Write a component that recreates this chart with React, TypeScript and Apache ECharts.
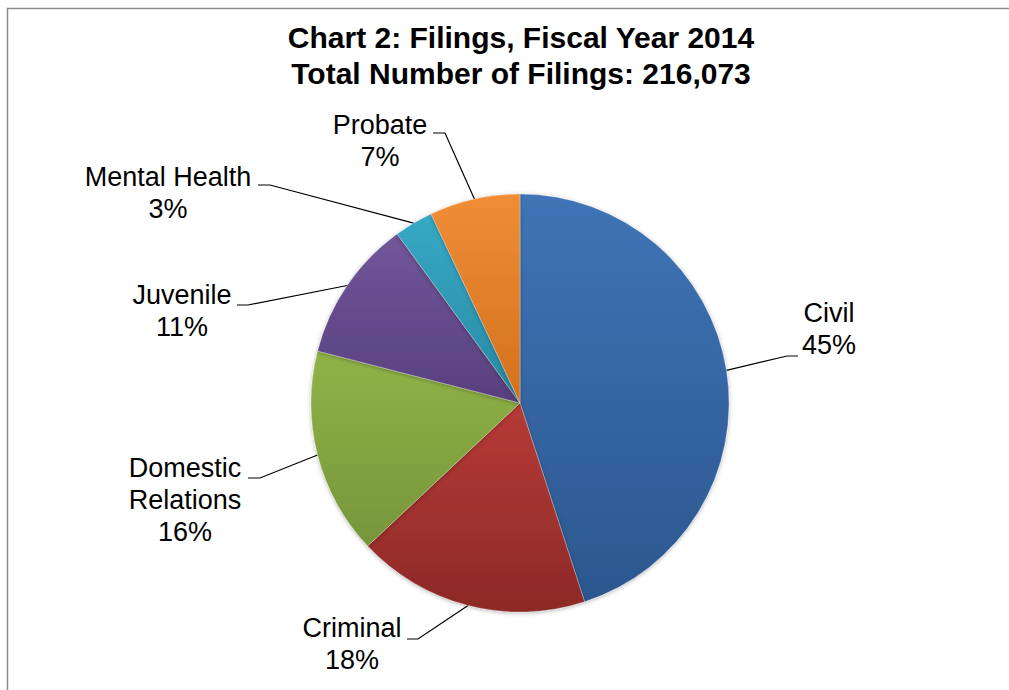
import React, { useEffect, useRef } from "react";
import * as echarts from "echarts";

const categories = ["Civil", "Criminal", "Domestic Relations", "Juvenile", "Mental Health", "Probate"];
const percentValues = [45, 18, 16, 11, 3, 7];
const titleLines = ["Chart 2: Filings, Fiscal Year 2014", "Total Number of Filings: 216,073"];

// slice colours: [top, bottom]
const sliceColors: [string, string][] = [
  ["#3F74B6", "#2B578E"],
  ["#B63B37", "#8C2927"],
  ["#90B347", "#76963A"],
  ["#715699", "#58407E"],
  ["#37A9C5", "#2888A2"],
  ["#F08D36", "#D2711E"],
];

// label layout: label-block centre, then leader-line elbow and end points
const labelCenters: [number, number][] = [
  [829, 329],
  [352, 644],
  [185, 500],
  [182, 311],
  [168, 193],
  [380, 141],
];
const leaderElbows: [number, number][] = [
  [787, 356],
  [418, 639],
  [260, 478],
  [248, 305],
  [270, 185],
  [445, 133],
];
const leaderEnds: [number, number][] = [
  [798, 356],
  [407, 639],
  [248, 478],
  [237, 305],
  [258, 185],
  [433, 133],
];

const FONT = "'Liberation Sans', Arial, Helvetica, sans-serif";

export default function App() {
  const ref = useRef<HTMLDivElement>(null);

  useEffect(() => {
    document.body.style.margin = "0";
    if (!ref.current) return;
    const chart = echarts.init(ref.current, undefined, { renderer: "svg" });

    const data = categories.map((name, i) => ({
      name,
      value: percentValues[i],
      itemStyle: {
        color: new echarts.graphic.LinearGradient(0, 0, 0, 1, [
          { offset: 0, color: sliceColors[i][0] },
          { offset: 1, color: sliceColors[i][1] },
        ]),
      },
    }));

    chart.setOption({
      animation: false,
      backgroundColor: "#ffffff",
      title: {
        text: titleLines.join("\n"),
        left: 521,
        top: 19,
        textAlign: "center",
        padding: 0,
        textStyle: {
          fontFamily: FONT,
          fontSize: 30,
          fontWeight: "bold",
          lineHeight: 36,
          color: "#000000",
        },
      },
      graphic: [
        {
          type: "rect",
          z: -10,
          shape: { x: 7.5, y: 8.5, width: 1100, height: 800 },
          style: { fill: "none", stroke: "#8a8a8a", lineWidth: 1.5 },
          silent: true,
        },
      ],
      series: [
        {
          type: "pie",
          center: [520, 403],
          radius: [0, 209],
          startAngle: 90,
          clockwise: true,
          data,
          itemStyle: {
            borderColor: "rgba(255,255,255,0.25)",
            borderWidth: 1,
            shadowBlur: 4,
            shadowColor: "rgba(0,0,0,0.3)",
            shadowOffsetY: 1,
          },
          emphasis: { disabled: true },
          label: {
            show: true,
            position: "outside",
            fontFamily: FONT,
            fontSize: 27,
            lineHeight: 32,
            color: "#000000",
            align: "center",
            formatter: (p: any) =>
              String(p.name).replace("Domestic ", "Domestic\n") + "\n" + p.value + "%",
          },
          labelLine: {
            show: true,
            length: 20,
            length2: 10,
            lineStyle: { color: "#000000", width: 1.2 },
          },
          labelLayout: (params: any) => {
            const i = params.dataIndex;
            const c = labelCenters[i];
            const start = params.labelLinePoints ? params.labelLinePoints[0] : leaderElbows[i];
            return {
              x: c[0],
              y: c[1],
              align: "center",
              verticalAlign: "middle",
              labelLinePoints: [start, leaderElbows[i], leaderEnds[i]],
            };
          },
        },
      ],
    });

    return () => chart.dispose();
  }, []);

  return <div ref={ref} style={{ width: 1009, height: 690 }} />;
}
